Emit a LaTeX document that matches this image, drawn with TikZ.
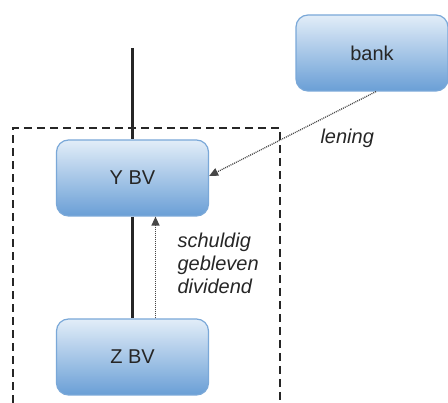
\documentclass[tikz,border=0pt]{standalone}
\usepackage{fontspec}
\setmainfont{Liberation Sans}
\usetikzlibrary{arrows.meta}
\definecolor{boxtop}{HTML}{E2EDF8}
\definecolor{boxbot}{HTML}{6A9FD6}
\definecolor{boxline}{HTML}{7AA8D8}
\definecolor{inkgray}{HTML}{262626}
\tikzset{
  x=1pt, y=-1pt,
  entity/.style={draw=boxline, line width=1.2pt, rounded corners=12pt,
    top color=boxtop, bottom color=boxbot, minimum width=152pt,
    minimum height=76pt, font=\fontsize{20}{22}\selectfont, text=inkgray},
  owns/.style={draw=inkgray, line width=2.4pt},
  claim/.style={draw=inkgray!85, line width=1.3pt, dash pattern=on 1pt off 1pt,
    -{Triangle[length=9pt,width=8pt]}},
  note/.style={font=\itshape\fontsize{20}{23}\selectfont, text=inkgray, align=left},
}
\begin{document}
\begin{tikzpicture}
\useasboundingbox (0,0) rectangle (448,403);
% group boundary
\draw[inkgray, line width=2.6pt, dash pattern=on 8pt off 5pt] (13,403) -- (13,128) -- (280,128) -- (280,403);
% entities
\node[entity] (bank) at (372,53) {bank};
\node[entity] (y) at (132.5,178) {Y BV};
\node[entity] (z) at (132.5,357) {Z BV};
\coordinate (up) at (132.5,48);
% ownership lines
\draw[owns] (up) -- (y.north);
\draw[owns] (y.south) -- (z.north);
% loan and dividend claims
\draw[claim] ([xshift=4pt]bank.south) -- ([yshift=2pt]y.east);
\draw[claim] ([xshift=23pt]z.north) -- ([xshift=23pt]y.south);
% labels
\node[note, anchor=west] (lening) at (317,138) {lening};
\node[note, anchor=north west] (div) at (174,229) {schuldig\\gebleven\\dividend};
\end{tikzpicture}
\end{document}
